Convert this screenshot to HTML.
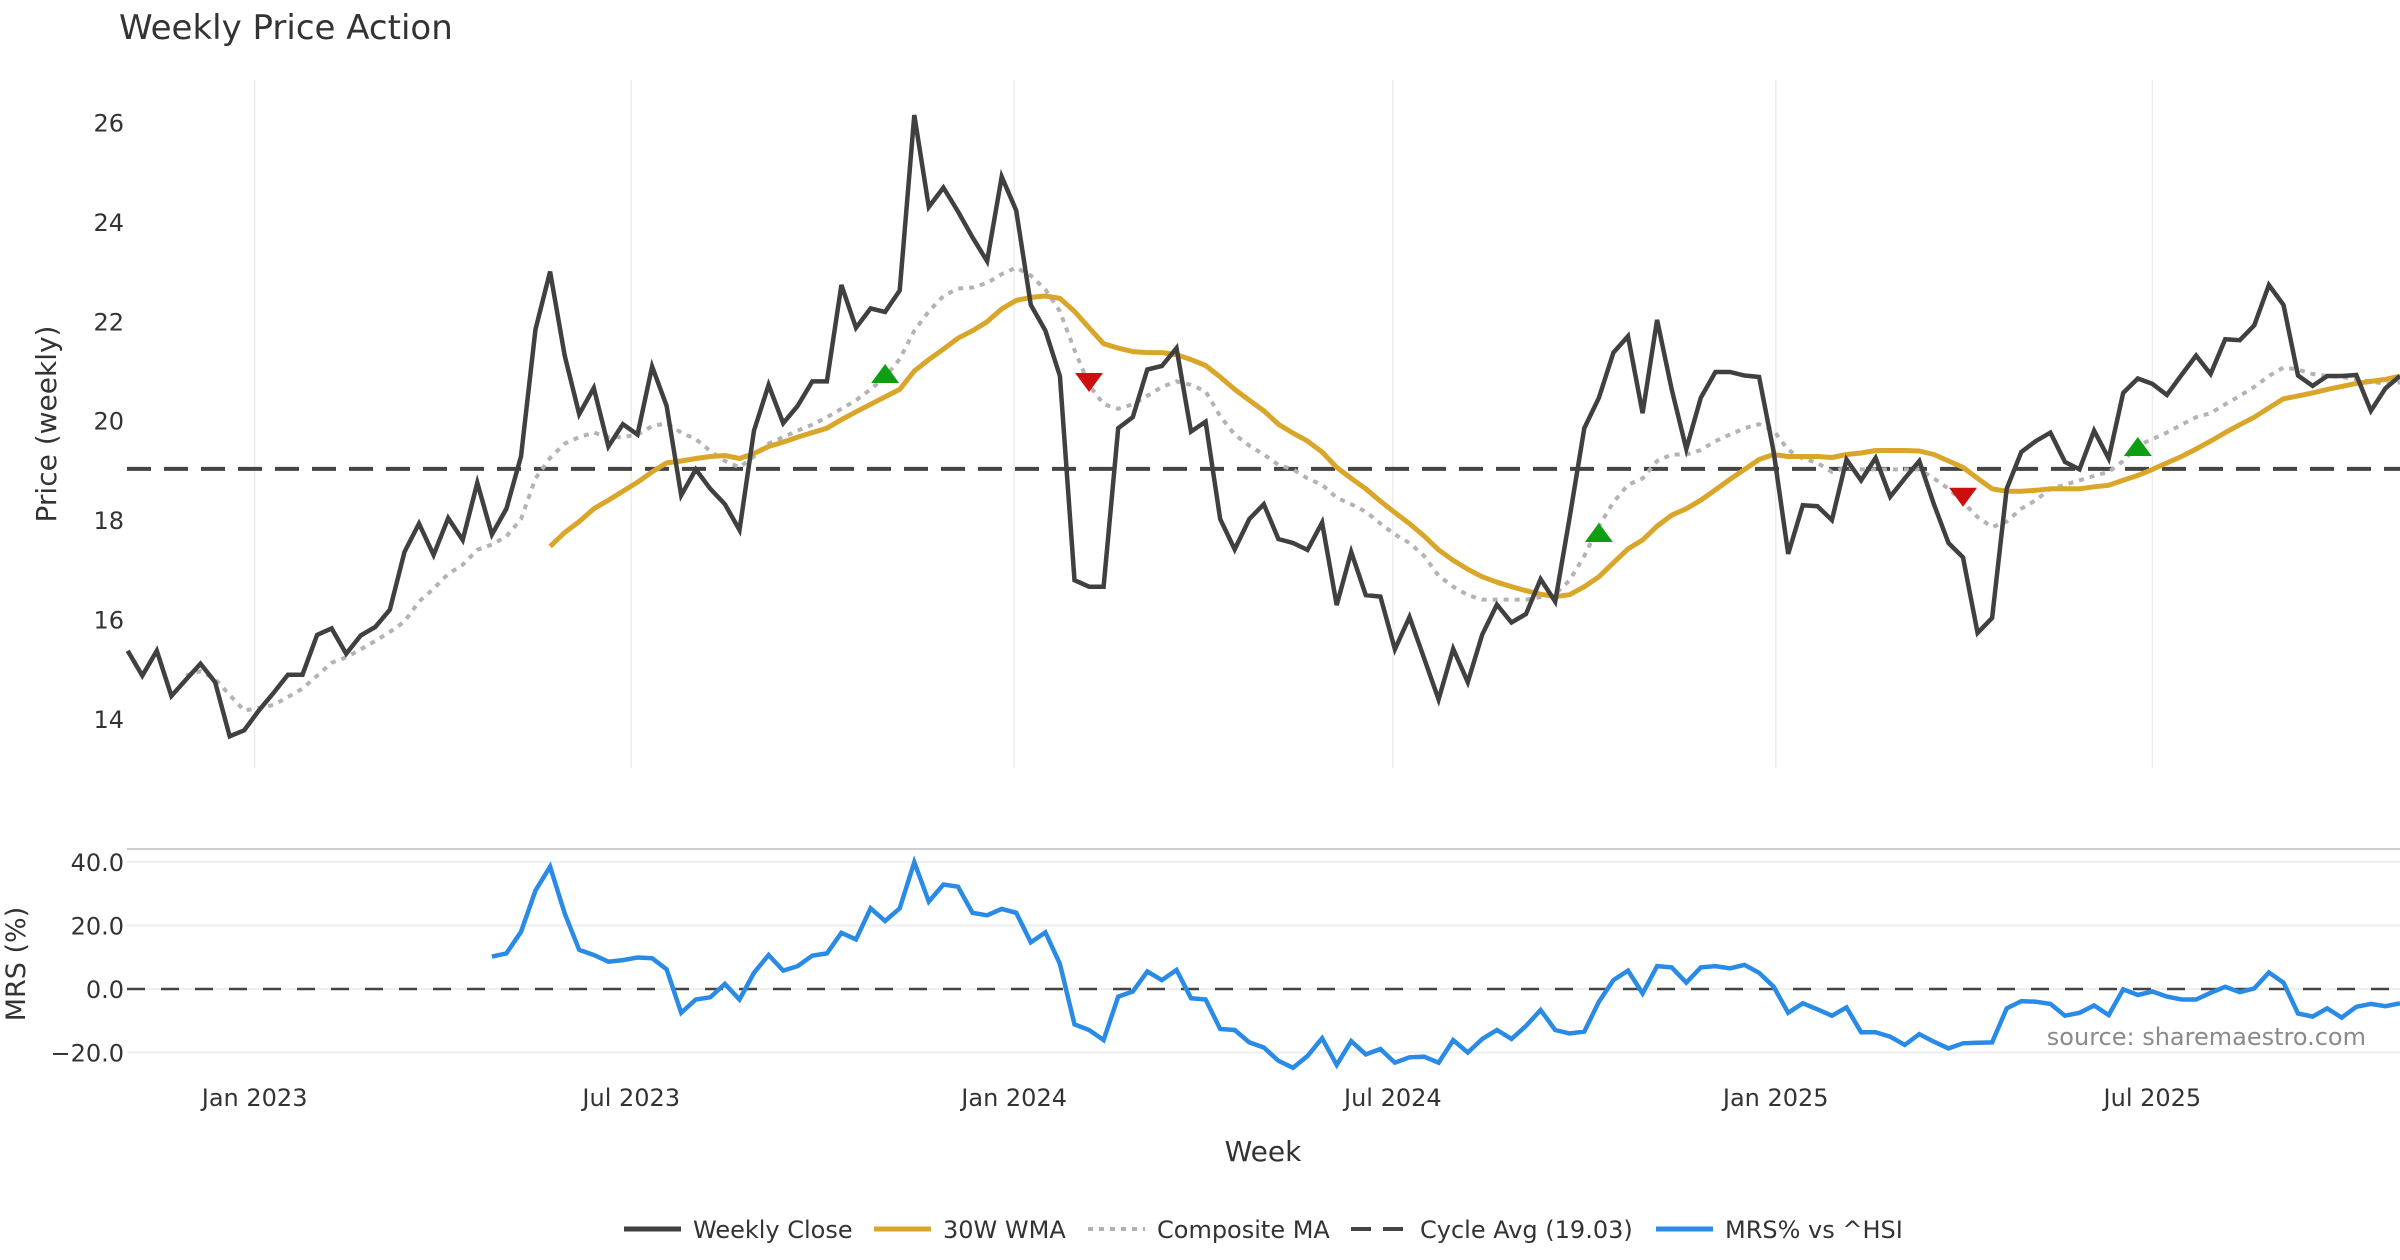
<!DOCTYPE html>
<html><head><meta charset="utf-8">
<style>
html,body{margin:0;padding:0;background:#fff;}
svg{display:block;font-family:"DejaVu Sans","Liberation Sans",sans-serif;}
</style></head>
<body>
<svg id="chart" width="2400" height="1260" viewBox="0 0 2400 1260" xmlns="http://www.w3.org/2000/svg">
<text x="119" y="39" font-size="34" fill="#333">Weekly Price Action</text>
<text transform="translate(56,424) rotate(-90)" text-anchor="middle" font-size="28" fill="#333">Price (weekly)</text>
<text transform="translate(25,964) rotate(-90)" text-anchor="middle" font-size="27" fill="#333">MRS (%)</text>
<text x="1263" y="1161" text-anchor="middle" font-size="28" fill="#333">Week</text>
<text x="2366" y="1045" text-anchor="end" font-size="24" fill="#8a8a8a">source: sharemaestro.com</text>
<g id="grid"></g>
<g id="series"></g>
<g id="legend">
  <line x1="624" y1="1229" x2="681" y2="1229" stroke="#404040" stroke-width="5"/>
  <text x="693" y="1238" font-size="24" fill="#333">Weekly Close</text>
  <line x1="874" y1="1229" x2="931" y2="1229" stroke="#d9a62a" stroke-width="5"/>
  <text x="943" y="1238" font-size="24" fill="#333">30W WMA</text>
  <line x1="1088" y1="1229" x2="1145" y2="1229" stroke="#b0b0b0" stroke-width="4" stroke-dasharray="5 6"/>
  <text x="1157" y="1238" font-size="24" fill="#333">Composite MA</text>
  <line x1="1351" y1="1229" x2="1408" y2="1229" stroke="#444" stroke-width="4" stroke-dasharray="20 12"/>
  <text x="1420" y="1238" font-size="24" fill="#333">Cycle Avg (19.03)</text>
  <line x1="1656" y1="1229" x2="1713" y2="1229" stroke="#2a8be6" stroke-width="5"/>
  <text x="1725" y="1238" font-size="24" fill="#333">MRS% vs ^HSI</text>
</g>
</svg>
<script>
const closeVals=[15.37,14.87,15.37,14.46,14.79,15.11,14.74,13.65,13.77,14.17,
14.52,14.89,14.89,15.69,15.82,15.31,15.68,15.85,16.2,17.36,
17.93,17.3,18.04,17.6,18.75,17.71,18.23,19.28,21.84,23.0,
21.31,20.13,20.66,19.48,19.93,19.72,21.09,20.3,18.5,19.02,
18.63,18.32,17.8,19.8,20.72,19.95,20.3,20.79,20.79,22.73,
21.87,22.26,22.19,22.62,26.15,24.3,24.69,24.21,23.69,23.21,
24.91,24.23,22.33,21.81,20.9,16.79,16.66,16.66,19.85,20.07,
21.03,21.1,21.46,19.78,19.98,18.02,17.41,18.02,18.32,17.62,
17.54,17.4,17.95,16.29,17.36,16.49,16.46,15.4,16.05,15.22,
14.39,15.41,14.74,15.7,16.3,15.94,16.11,16.81,16.36,18.06,
19.85,20.46,21.37,21.7,20.15,22.03,20.63,19.43,20.46,20.98,
20.98,20.91,20.88,19.37,17.32,18.3,18.28,18.0,19.22,18.8,
19.25,18.47,18.84,19.19,18.32,17.54,17.25,15.73,16.03,18.63,
19.37,19.59,19.76,19.17,19.02,19.8,19.24,20.56,20.85,20.74,
20.52,20.92,21.31,20.94,21.64,21.62,21.92,22.73,22.33,20.91,
20.7,20.9,20.9,20.92,20.2,20.65,20.9];
const wmaStart=29;
const wmaVals=[17.47,17.75,17.97,18.23,18.4,18.58,18.76,18.97,19.15,19.19,19.24,
19.28,19.3,19.24,19.34,19.48,19.57,19.67,19.76,19.85,20.02,20.18,20.33,20.48,20.63,21.0,21.23,21.44,21.66,21.81,21.99,22.25,22.42,22.48,22.51,22.46,22.2,21.87,21.55,21.46,21.39,21.37,21.37,21.33,21.23,21.11,20.88,20.63,20.41,20.2,19.93,
19.75,19.59,19.37,19.06,18.84,18.63,18.38,18.15,17.93,17.68,17.4,17.19,17.01,16.86,16.75,16.66,16.58,16.51,16.46,16.5,16.66,16.86,17.14,17.42,17.6,17.88,18.1,18.23,18.4,18.61,18.82,19.02,19.22,19.32,19.28,19.28,19.28,19.26,19.32,19.35,
19.4,19.4,19.4,19.39,19.32,19.19,19.06,18.84,18.63,18.58,18.58,18.6,18.63,18.63,18.63,18.67,18.7,18.8,18.9,19.02,19.15,19.28,19.43,19.59,19.76,19.92,20.07,20.26,20.44,20.5,20.56,20.63,20.69,20.75,20.79,20.83,20.9];
const compStart=4;
const compVals=[14.87,14.96,14.8,14.48,14.17,14.22,14.28,14.44,14.61,14.87,15.13,15.24,15.4,15.57,15.75,15.96,16.36,16.62,16.92,17.1,17.4,17.51,17.67,18.02,18.84,19.25,19.54,19.67,19.76,19.67,19.67,19.72,19.89,19.95,19.76,19.63,
19.39,19.19,19.06,19.28,19.54,19.67,19.8,19.92,20.07,20.24,20.41,20.63,20.88,21.24,21.81,22.2,22.51,22.66,22.68,22.77,22.95,23.08,22.92,22.64,22.2,21.42,20.72,20.33,20.24,20.33,20.5,20.68,20.79,20.72,20.59,20.09,19.72,19.5,19.32,19.11,
19.02,18.84,18.71,18.45,18.32,18.17,17.93,17.71,17.54,17.28,16.88,16.66,16.49,16.4,16.4,16.4,16.4,16.45,16.51,16.79,17.28,17.88,18.36,18.71,18.84,19.19,19.32,19.32,19.41,19.59,19.72,19.85,19.93,19.8,19.41,19.24,19.15,18.97,19.06,19.02,
19.02,19.02,19.02,19.02,18.84,18.63,18.36,18.06,17.86,17.97,18.23,18.4,18.63,18.71,18.8,18.89,18.97,19.19,19.5,19.63,19.76,19.92,20.07,20.15,20.33,20.5,20.68,20.9,21.07,21.03,20.94,20.9,20.88,20.83,20.79,20.74,20.77];
const mrsStart=25;
const mrsVals=[10.2,11.2,18.0,31.0,38.5,23.8,12.3,10.7,8.6,9.1,9.9,9.7,6.2,-7.5,-3.3,-2.6,1.6,-3.3,5.1,10.7,5.8,7.2,10.5,11.2,17.7,15.6,25.4,21.4,25.4,39.9,27.5,32.9,32.2,24.0,23.2,25.2,24.0,14.7,17.8,7.9,-11.1,-12.9,-16.1,-2.4,-0.8,
5.5,2.8,6.0,-2.9,-3.3,-12.6,-12.9,-16.8,-18.4,-22.6,-24.8,-21.1,-15.5,-23.9,-16.4,-20.6,-18.9,-23.2,-21.5,-21.3,-23.2,-16.1,-20.0,-15.7,-12.9,-15.7,-11.6,-6.6,-12.9,-14.0,-13.4,-4.0,2.8,5.8,-1.4,7.2,6.8,2.0,6.8,7.2,6.5,7.6,5.1,
0.7,-7.5,-4.5,-6.4,-8.4,-5.8,-13.6,-13.6,-15.0,-17.6,-14.2,-16.6,-18.7,-17.1,-16.9,-16.8,-6.1,-3.8,-4.0,-4.7,-8.4,-7.5,-5.2,-8.2,-0.1,-1.9,-0.8,-2.4,-3.3,-3.3,-1.2,0.7,-1.0,0.2,5.2,2.0,-7.7,-8.7,-6.1,-9.0,-5.6,-4.7,-5.4,-4.5];
const cycleAvg=19.03;
const buyIdx=[52,101,138];
const buyVals=[20.92,17.72,19.45];
const sellIdx=[66,126];
const sellVals=[20.8,18.49];
const priceTicks=[14,16,18,20,22,24,26];
const mrsTicks=[-20,0,20,40];
const mrsTickLabels=["\u221220.0","0.0","20.0","40.0"];
const xTickDates=["2023-01-01","2023-07-01","2024-01-01","2024-07-01","2025-01-01","2025-07-01"];
const xTickLabels=["Jan 2023","Jul 2023","Jan 2024","Jul 2024","Jan 2025","Jul 2025"];
const startDate="2022-11-01";

const NS="http://www.w3.org/2000/svg";
const X0=127.7, STEP=14.566;
function xI(i){return X0+i*STEP;}
function xD(d){return xI((Date.parse(d)-Date.parse(startDate))/(7*864e5));}
function yP(v){return 122.5+(26-v)*49.7;}
function yM(v){return 989-v*3.177;}
function mk(tag,attrs,parent){const e=document.createElementNS(NS,tag);for(const k in attrs)e.setAttribute(k,attrs[k]);parent.appendChild(e);return e;}
const grid=document.getElementById('grid'), ser=document.getElementById('series');

xTickDates.forEach((d,k)=>{
  const x=xD(d);
  const g1=mk('line',{x1:x,y1:80,x2:x,y2:768,stroke:'#ececec','stroke-width':1.5},grid);
  
  
  const t=mk('text',{x:x,y:1106,'text-anchor':'middle','font-size':24,fill:'#333'},grid);
  t.textContent=xTickLabels[k];
  
  
});
priceTicks.forEach(v=>{
  const t=mk('text',{x:124,y:yP(v)+9,'text-anchor':'end','font-size':24,fill:'#333'},grid);
  t.textContent=v;
  
  
});
const sep=mk('line',{x1:127,y1:849,x2:2400,y2:849,stroke:'#cfcfcf','stroke-width':2},grid);


mrsTicks.forEach((v,k)=>{
  const l=mk('line',{x1:127,y1:yM(v),x2:2400,y2:yM(v),stroke:'#eeeeee','stroke-width':2},grid);
  
  
  const t=mk('text',{x:124,y:yM(v)+9,'text-anchor':'end','font-size':24,fill:'#333'},grid);
  t.textContent=mrsTickLabels[k];
  
  
});
const zl=mk('line',{x1:127,y1:yM(0),x2:2400,y2:yM(0),stroke:'#444','stroke-width':2.5,'stroke-dasharray':'18 16'},grid);



function path(vals,start,yf){return vals.map((v,k)=>(k?'L':'M')+xI(start+k).toFixed(1)+' '+yf(v).toFixed(1)).join(' ');}
const cyc=mk('line',{x1:127,y1:yP(cycleAvg),x2:2400,y2:yP(cycleAvg),stroke:'#444','stroke-width':4,'stroke-dasharray':'24 13'},ser);


const pc=mk('path',{d:path(compVals,compStart,yP),fill:'none',stroke:'#b3b3b3','stroke-width':4,'stroke-dasharray':'5 6'},ser);


const pw=mk('path',{d:path(wmaVals,wmaStart,yP),fill:'none',stroke:'#d9a62a','stroke-width':5,'stroke-linejoin':'round'},ser);


const pcl=mk('path',{d:path(closeVals,0,yP),fill:'none',stroke:'#404040','stroke-width':4.5,'stroke-linejoin':'miter'},ser);


const pm=mk('path',{d:path(mrsVals,mrsStart,yM),fill:'none',stroke:'#2a8be6','stroke-width':4.5,'stroke-linejoin':'miter'},ser);


buyIdx.forEach((i,k)=>{
  const x=xI(i), y=yP(buyVals[k]);
  const t=mk('polygon',{points:`${x-14},${y+8} ${x+14},${y+8} ${x},${y-11}`,fill:'#0e9e12'},ser);
  
  
});
sellIdx.forEach((i,k)=>{
  const x=xI(i), y=yP(sellVals[k]);
  const t=mk('polygon',{points:`${x-14},${y-8} ${x+14},${y-8} ${x},${y+11}`,fill:'#cc0e0e'},ser);
  
  
});
</script>
</body></html>
